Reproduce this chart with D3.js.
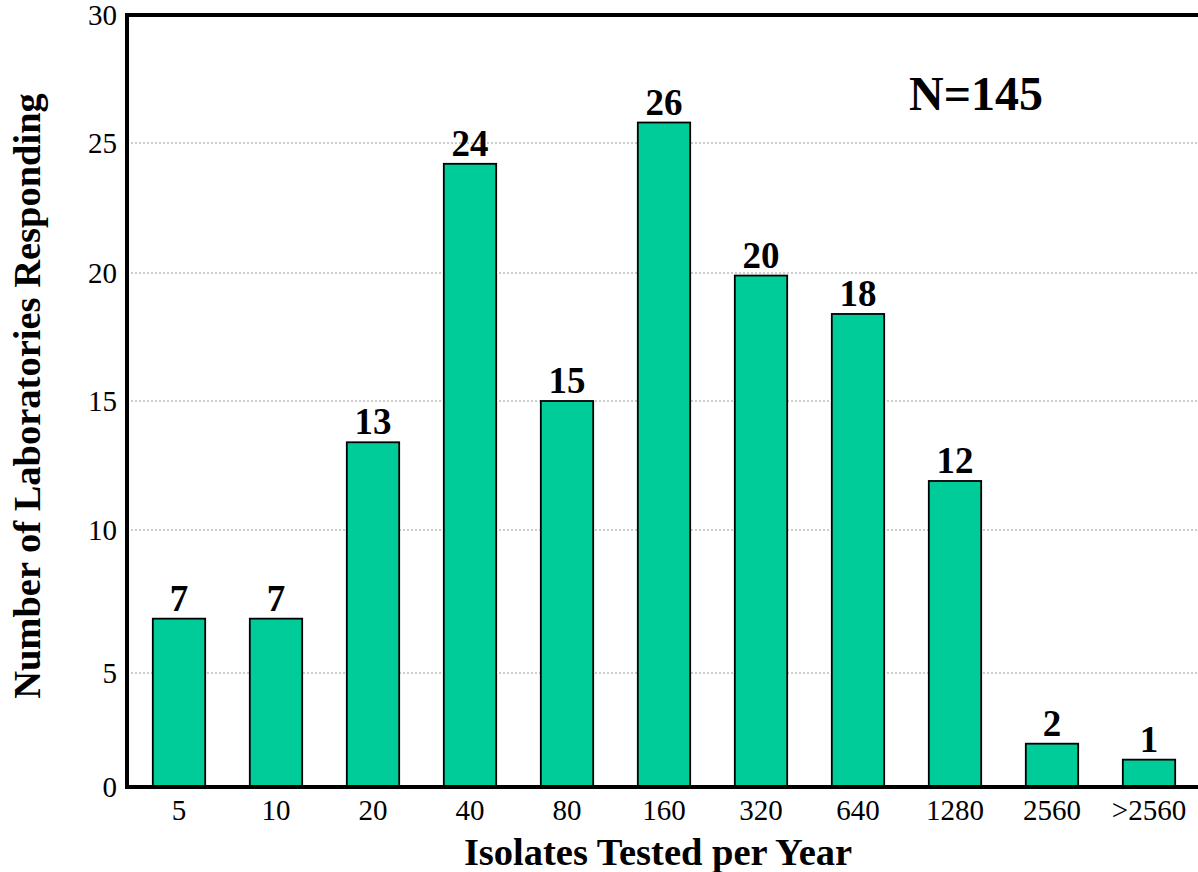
<!DOCTYPE html>
<meta charset="utf-8">
<title>Isolates Tested per Year</title>
<style>
body {
  margin: 0;
  background: white;
  overflow: hidden;
}
svg text {
  font-family: 'Liberation Serif', 'Times New Roman', serif;
}
.tick text {
  font-size: 29px;
  fill: black;
}
.grid line {
  stroke: #9a9a9a;
  stroke-width: 1.2;
  stroke-dasharray: 2,2;
}
.bar {
  fill: #00cc99;
  stroke: black;
  stroke-width: 1.8;
}
.value {
  font-size: 37px;
  font-weight: bold;
  text-anchor: middle;
}
.title {
  font-size: 38.5px;
  font-weight: bold;
  text-anchor: middle;
}
</style>
<svg width="1198" height="872"></svg>
<script src="https://d3js.org/d3.v7.min.js"></script>
<script>
var categories = ["5", "10", "20", "40", "80", "160", "320", "640", "1280", "2560", ">2560"];
// bar heights as drawn in the picture; printed labels are these rounded
var counts = [6.9, 6.9, 13.4, 24.2, 15.0, 25.8, 19.9, 18.4, 11.9, 1.9, 1.2];
var yTicks = [0, 5, 10, 15, 20, 25, 30];
var total = "N=145";

var svg = d3.select("svg");

var mLeft = 127, mRight = 1230, mTop = 15, mBottom = 787;

var x = d3.scaleBand()
    .domain(categories)
    .range([130.5, 1197.5])
    .paddingInner(0.46)
    .paddingOuter(0.23);

// the source scan is not quite linear, so the axis is piecewise
var y = d3.scaleLinear()
    .domain(yTicks)
    .range([787, 673, 530, 401, 273, 143, 15]);

// gridlines
svg.append("g")
    .attr("class", "grid")
  .selectAll("line")
  .data(yTicks.filter(function(d) { return d > 0 && d < 30; }))
  .enter().append("line")
    .attr("x1", mLeft)
    .attr("x2", mRight)
    .attr("y1", function(d) { return y(d); })
    .attr("y2", function(d) { return y(d); });

// bars
svg.append("g")
  .selectAll("rect")
  .data(counts)
  .enter().append("rect")
    .attr("class", "bar")
    .attr("x", function(d, i) { return x(categories[i]); })
    .attr("y", function(d) { return y(d); })
    .attr("width", x.bandwidth())
    .attr("height", function(d) { return y(0) - y(d); });

svg.append("g")
  .selectAll("text")
  .data(counts)
  .enter().append("text")
    .attr("class", "value")
    .attr("x", function(d, i) { return x(categories[i]) + x.bandwidth() / 2; })
    .attr("y", function(d) { return y(d) - 8; })
    .text(function(d) { return Math.round(d); });

// frame
svg.append("path")
    .attr("d", "M" + mRight + "," + mTop + "H" + mLeft + "V" + mBottom + "H" + mRight)
    .attr("fill", "none")
    .attr("stroke", "black")
    .attr("stroke-width", 4);

// axes
var yAxis = svg.append("g")
    .attr("transform", "translate(" + mLeft + ",0)")
    .call(d3.axisLeft(y).tickValues(yTicks).tickSize(0).tickPadding(10));
yAxis.select(".domain").remove();

var xAxis = svg.append("g")
    .attr("transform", "translate(0," + mBottom + ")")
    .call(d3.axisBottom(x).tickSize(0).tickPadding(10));
xAxis.select(".domain").remove();
xAxis.selectAll(".tick text").attr("dy", "0.8em");

svg.append("text")
    .attr("class", "title")
    .attr("x", 658)
    .attr("y", 865)
    .text("Isolates Tested per Year");

svg.append("text")
    .attr("class", "title")
    .attr("transform", "translate(40,396) rotate(-90)")
    .text("Number of Laboratories Responding");

svg.append("text")
    .attr("class", "title")
    .attr("x", 976)
    .attr("y", 110)
    .style("font-size", "48px")
    .text(total);
</script>
